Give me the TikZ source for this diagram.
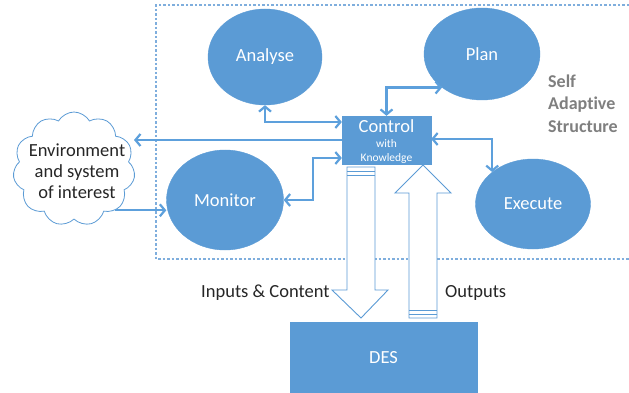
\documentclass[tikz,border=0pt]{standalone}
\usepackage{fontspec}
\setmainfont{Carlito}[Ligatures=NoCommon]
\usetikzlibrary{arrows.meta,shapes.geometric,shapes.symbols,calc}
\definecolor{officeblue}{HTML}{5B9BD5}
\definecolor{linkblue}{HTML}{5DA0DC}
\definecolor{framecol}{HTML}{7FAEDD}
\definecolor{graytxt}{HTML}{7F7F7F}
\definecolor{darktxt}{HTML}{262626}
\tikzset{
  blob/.style={ellipse, fill=officeblue, draw=officeblue, text=white, inner sep=0pt,
    font=\fontsize{18.5}{22}\selectfont},
  conn/.style={draw=linkblue, line width=2.2pt,
    arrows={Straight Barb[length=5pt,width=12pt]-Straight Barb[length=5pt,width=12pt]}},
  oneway/.style={draw=linkblue, line width=2.2pt,
    arrows={-Straight Barb[length=5pt,width=12pt]}},
  blockarrow/.style={draw=officeblue, line width=0.9pt, fill=white, line join=miter},
  stripe/.style={draw=officeblue, line width=0.9pt},
  outlabel/.style={text=darktxt, font=\fontsize{18.5}{21}\selectfont, inner sep=0pt},
  boxnode/.style={rectangle, fill=officeblue, draw=officeblue, inner sep=0pt},
  sastext/.style={text=graytxt, font=\bfseries\fontsize{18}{22}\selectfont, inner sep=0pt, anchor=base west}
}
\begin{document}
\begin{tikzpicture}[x=1pt,y=-1pt]
\useasboundingbox (0,0) rectangle (629,393);
\fill[white] (0,0) rectangle (629,393);

% dotted frame of the self adaptive structure
\draw[framecol, line width=1.3pt, dash pattern=on 2.5pt off 2pt]
  (629,5) -- (156,5) -- (156,259) -- (629,259);

% MAPE ellipses
\node[blob, minimum width=114pt, minimum height=96pt] (analyse) at (265,57) {Analyse};
\node[blob, minimum width=116pt, minimum height=92pt] (plan) at (482,54) {Plan};
\node[blob, minimum width=117pt, minimum height=100pt] (monitor) at (225,200) {Monitor};
\node[blob, minimum width=115pt, minimum height=90pt] (execute) at (533,204) {Execute};

% control box
\node[boxnode, minimum width=89pt, minimum height=48pt] (control) at (386.5,140) {};
\node[text=white, font=\fontsize{18.5}{22}\selectfont, inner sep=0pt, anchor=base] (ctltxt) at (386.5,132) {Control};
\node[text=white, font=\fontsize{11.5}{13}\selectfont, inner sep=0pt, anchor=base] (withtxt) at (386.5,148) {with};
\node[text=white, font=\fontsize{11.5}{13}\selectfont, inner sep=0pt, anchor=base] (knowtxt) at (386.5,161) {Knowledge};

% self adaptive structure label
\node[sastext] (selftxt) at (548,88) {Self};
\node[sastext] (adapttxt) at (548,110) {Adaptive};
\node[sastext] (structtxt) at (548,132) {Structure};

% environment cloud
\node[cloud, draw=officeblue, fill=white, line width=0.8pt, cloud puffs=11, cloud puff arc=120,
  minimum width=122pt, minimum height=114pt, inner sep=0pt] (env) at (74,169) {};
\node[outlabel, align=center] (envtxt) at (77,171) {Environment\\and system\\of interest};

% DES box
\node[boxnode, minimum width=187pt, minimum height=72pt, text=white,
  font=\fontsize{18.5}{22}\selectfont] (des) at (383.5,358) {DES};

% block arrows
\draw[blockarrow] (347,167) -- (375,167) -- (375,290) -- (388,290) -- (361,318)
  -- (332,290) -- (347,290) -- cycle;
\draw[stripe] (347,171) -- (375,171);
\draw[stripe] (347,175) -- (375,175);
\draw[blockarrow] (409,318) -- (437,318) -- (437,193) -- (451,193) -- (423,165)
  -- (395,193) -- (409,193) -- cycle;
\draw[stripe] (409,314) -- (437,314);
\draw[stripe] (409,310) -- (437,310);

\node[outlabel, anchor=base west] (inlbl) at (201,297) {Inputs \& Content};
\node[outlabel, anchor=base west] (outlbl) at (445,297) {Outputs};

% connectors
\coordinate (mbend) at ($(monitor.east)+(29,0)$);
\draw[conn] (analyse.south) |- ([yshift=18pt]control.west);
\draw[conn] (plan.220) -| (control.north);
\draw[conn] ([yshift=1pt]control.east) -| (execute.north west);
\draw[conn] ([yshift=-18pt]control.west) -| (mbend) -- (monitor.east);
\draw[oneway] (control.west) -- (control.west -| env.east);
\draw[oneway] (env.-45) -- (env.-45 -| monitor.west);
\end{tikzpicture}
\end{document}
